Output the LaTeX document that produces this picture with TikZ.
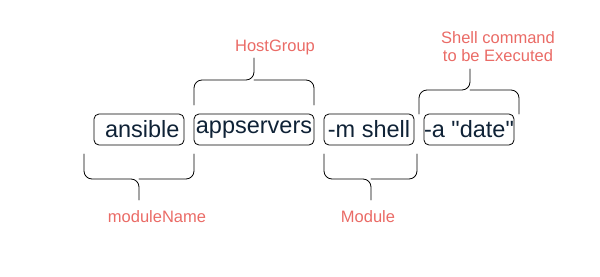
\documentclass[tikz,border=0pt]{standalone}
\usepackage{fontspec}
\setmainfont{Liberation Sans}
\newfontfamily\cmdfont{Liberation Sans}[Ligatures=TeXOff]
\definecolor{labelred}{HTML}{EA6B66}
\definecolor{cmdtext}{HTML}{0F2236}
\begin{document}
\begin{tikzpicture}[x=1pt,y=-1pt,line cap=round,line join=round]
  \tikzset{
    part/.style={draw,line width=0.8pt,rounded corners=5pt,minimum height=31pt,
      inner sep=0pt,text=cmdtext,font=\cmdfont\fontsize{23.5}{26}\selectfont},
    tag/.style={text=labelred,font=\fontsize{16.5}{20}\selectfont,align=center},
    curly/.style={line width=0.8pt,rounded corners=8pt}
  }
  \useasboundingbox (0,0) rectangle (600,276);
  % command parts
  \node[part,minimum width=90pt]  (ansible) at (139,129.5) {\ ansible};
  \node[part,minimum width=120pt] (hosts)   at (254,129.5) {appservers};
  \node[part,minimum width=90pt]  (module)  at (369,129.5) {-m shell};
  \node[part,minimum width=90pt]  (args)    at (469,129.5) {-a "date"};
  % braces above
  \draw[curly] (194,105) -- (194,80) -- (254,80) -- (254,58);
  \draw[curly] (314,105) -- (314,80) -- (254,80);
  \draw[curly] (419,114) -- (419,90) -- (470,90) -- (470,69);
  \draw[curly] (519,114) -- (519,90) -- (470,90);
  % braces below
  \draw[curly] (84,154) -- (84,179) -- (139,179) -- (139,200);
  \draw[curly] (194,154) -- (194,179) -- (139,179);
  \draw[curly] (324,154) -- (324,179) -- (371,179) -- (371,200);
  \draw[curly] (417,154) -- (417,179) -- (371,179);
  % labels
  \node[tag] (hostgroup) at (275,47) {HostGroup};
  \node[tag] (shellcmd)  at (498,47) {Shell command\\[-2pt]to be Executed};
  \node[tag] (modname)   at (157,217) {moduleName};
  \node[tag] (modlabel)  at (368,217) {Module};
\end{tikzpicture}
\end{document}
